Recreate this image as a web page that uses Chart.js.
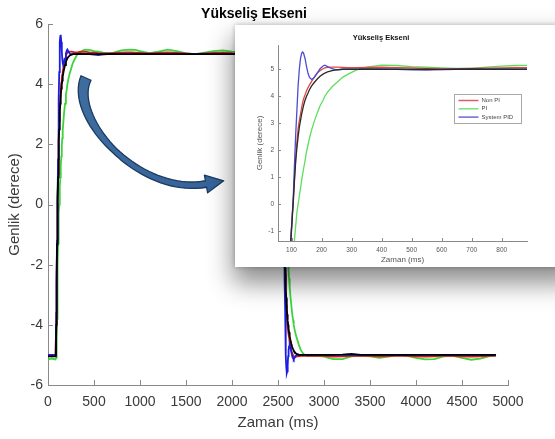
<!DOCTYPE html>
<html>
<head>
<meta charset="utf-8">
<script src="https://cdn.jsdelivr.net/npm/chart.js@4"></script>
<style>
  html, body { margin: 0; padding: 0; background: #fff; overflow: hidden; }
  #wrap { position: relative; width: 555px; height: 439px; overflow: hidden; }
  #mainChart { position: absolute; left: 0; top: 0; }
  #insetBox {
    position: absolute; left: 235px; top: 25px; width: 340px; height: 242px;
    background: #fff;
    box-shadow: 0 14px 24px 2px rgba(0,0,0,0.45), 0 0 5px rgba(0,0,0,0.25);
  }
  #insetChart { position: absolute; left: 0; top: 0; }
</style>
</head>
<body>
<div id="wrap">
  <canvas id="mainChart" width="555" height="439"></canvas>
  <div id="insetBox"><canvas id="insetChart" width="320" height="242"></canvas></div>
</div>
<script>
// Texts
const chartTitle = 'Yükseliş Ekseni';
const xTitle = 'Zaman (ms)';
const yTitle = 'Genlik (derece)';
const seriesNames = ['Non PI', 'PI', 'System PID'];

// Sample times (ms), shared by all traces
const timeMs = [0, 40, 80, 86, 90, 94, 98, 102, 106, 110, 114, 118, 122, 126, 130, 134, 137, 140, 145, 150,
  155, 160, 167, 175, 185, 195, 205, 211, 220, 235, 250, 270, 290, 317, 350, 400, 450, 500, 550, 600,
  650, 700, 750, 800, 850, 900, 950, 1000, 1100, 1200, 1300, 1400, 1500, 1600, 1700, 1800, 1900, 2000, 2200, 2400,
  2540, 2546, 2550, 2554, 2558, 2562, 2566, 2570, 2574, 2578, 2582, 2586, 2590, 2594, 2597, 2600, 2605, 2610, 2615, 2620,
  2627, 2635, 2645, 2655, 2665, 2671, 2680, 2695, 2710, 2730, 2750, 2780, 2820, 2900, 3000, 3100, 3200, 3300, 3400, 3500,
  3600, 3700, 3800, 3900, 4000, 4100, 4200, 4300, 4400, 4500, 4600, 4700, 4800, 4870];

// Red trace
const nonPI = [-5.0, -5.02, -5.0, -5.0, -4.0, -2.6, -1.3, -0.5, 0.2, 1.0, 1.7, 2.3, 2.8, 3.1, 3.35, 3.6, 3.75, 3.9, 4.05, 4.2,
  4.32, 4.42, 4.55, 4.7, 4.85, 4.95, 5.02, 5.05, 5.07, 5.08, 5.08, 5.07, 5.06, 5.06, 5.07, 5.08, 5.06, 5.05, 5.03, 5.02,
  5.02, 5.03, 5.04, 5.05, 5.06, 5.06, 5.05, 5.04, 5.02, 5.04, 5.06, 5.04, 5.02, 5.0, 5.02, 5.04, 5.05, 5.03, 5.02, 5.03,
  5.02, 5.0, 4.0, 2.6, 1.3, 0.5, -0.2, -1.0, -1.7, -2.3, -2.8, -3.1, -3.35, -3.6, -3.75, -3.9, -4.05, -4.2, -4.32, -4.42,
  -4.55, -4.7, -4.85, -4.95, -5.02, -5.05, -5.06, -5.06, -5.05, -5.04, -5.03, -5.02, -5.03, -5.02, -5.03, -5.06, -5.05, -5.03, -5.02, -5.03,
  -5.05, -5.04, -5.02, -5.03, -5.05, -5.06, -5.05, -5.02, -5.03, -5.05, -5.06, -5.05, -5.03, -5.02];

// Green trace
const pi = [-5.15, -5.12, -5.15, -5.15, -5.1, -4.6, -3.8, -2.9, -2.0, -1.3, -0.8, -0.3, 0.0, 0.3, 0.6, 0.9, 1.1, 1.3, 1.6, 1.95,
  2.2, 2.45, 2.75, 3.05, 3.35, 3.65, 3.85, 4.0, 4.15, 4.35, 4.5, 4.7, 4.83, 4.98, 5.08, 5.15, 5.14, 5.1, 5.08, 5.05,
  5.03, 5.03, 5.08, 5.12, 5.14, 5.15, 5.14, 5.1, 5.03, 5.08, 5.15, 5.1, 5.02, 5.0, 5.05, 5.1, 5.12, 5.08, 5.03, 5.1,
  5.05, 5.05, 5.0, 4.6, 3.8, 2.9, 2.0, 1.3, 0.8, 0.3, 0.0, -0.3, -0.6, -0.9, -1.1, -1.3, -1.6, -1.95, -2.2, -2.45,
  -2.75, -3.05, -3.35, -3.65, -3.85, -4.0, -4.15, -4.35, -4.5, -4.7, -4.85, -4.98, -5.04, -5.02, -5.06, -5.14, -5.14, -5.05, -5.02, -5.05,
  -5.1, -5.06, -5.01, -5.03, -5.1, -5.15, -5.14, -5.05, -5.03, -5.1, -5.16, -5.12, -5.04, -5.02];

// Blue trace
const systemPID = [-5.0, -5.0, -5.0, -4.9, -3.6, -2.3, -1.2, -0.5, 0.3, 1.5, 2.6, 3.5, 4.4, 5.0, 5.4, 5.6, 5.64, 5.6, 5.4, 5.1,
  4.85, 4.7, 4.62, 4.68, 4.85, 5.02, 5.12, 5.15, 5.1, 5.02, 4.98, 5.0, 5.0, 5.0, 5.0, 5.01, 5.0, 4.98, 4.97, 5.0,
  5.0, 5.0, 5.0, 5.01, 5.0, 5.0, 5.0, 5.0, 5.0, 5.0, 5.0, 5.0, 5.0, 5.0, 5.0, 5.0, 5.0, 5.0, 5.0, 5.0,
  5.0, 4.9, 3.6, 2.3, 1.2, 0.5, -0.3, -1.5, -2.6, -3.5, -4.4, -5.0, -5.4, -5.55, -5.6, -5.55, -5.35, -5.05, -4.85, -4.72,
  -4.68, -4.75, -4.9, -5.05, -5.12, -5.15, -5.1, -5.02, -4.98, -5.0, -5.0, -5.0, -5.0, -5.0, -5.0, -5.0, -5.0, -5.0, -5.0, -5.0,
  -5.0, -5.0, -5.0, -5.0, -5.0, -5.0, -5.0, -5.0, -5.0, -5.0, -5.0, -5.0, -5.0, -5.0];

// Black trace
const blackTrace = [-5.05, -5.05, -5.05, -5.0, -4.0, -2.6, -1.33, -0.6, 0.1, 0.9, 1.6, 2.1, 2.5, 2.85, 3.1, 3.35, 3.5, 3.65, 3.85, 4.0,
  4.12, 4.25, 4.38, 4.5, 4.63, 4.74, 4.82, 4.86, 4.9, 4.95, 4.98, 5.0, 5.0, 5.0, 5.01, 5.0, 5.0, 5.0, 5.0, 4.99,
  5.0, 5.01, 5.0, 5.0, 5.0, 5.0, 5.01, 5.0, 5.0, 5.0, 5.0, 5.0, 5.0, 5.0, 5.0, 5.0, 5.0, 5.0, 5.0, 5.0,
  5.0, 5.0, 4.0, 2.6, 1.3, 0.6, -0.1, -0.9, -1.6, -2.1, -2.5, -2.85, -3.1, -3.35, -3.5, -3.65, -3.85, -4.0, -4.12, -4.25,
  -4.38, -4.5, -4.63, -4.74, -4.82, -4.86, -4.9, -4.95, -4.98, -5.0, -5.0, -5.0, -5.0, -5.0, -5.0, -5.0, -4.99, -4.97, -5.0, -5.0,
  -5.0, -5.0, -5.0, -5.0, -5.0, -5.0, -5.0, -5.0, -5.0, -5.0, -5.0, -5.0, -5.0, -5.0];

// Axis ticks
const mainXTicks = [0, 500, 1000, 1500, 2000, 2500, 3000, 3500, 4000, 4500, 5000];
const mainYTicks = [-6, -4, -2, 0, 2, 4, 6];
const insetXTicks = [100, 200, 300, 400, 500, 600, 700, 800];
const insetYTicks = [-1, 0, 1, 2, 3, 4, 5];

Chart.defaults.font.family = 'Arial, "Liberation Sans", Helvetica, sans-serif';
Chart.defaults.animation = false;

function toPoints(values) {
    return timeMs.map((t, i) => ({ x: t, y: values[i] }));
}

function buildDatasets(colors, width) {
    const traces = [nonPI, pi, systemPID, blackTrace];
    const labels = [seriesNames[0], seriesNames[1], seriesNames[2], ''];
    const order = [2, 3, 1, 0];
    return traces.map((values, i) => ({
        label: labels[i],
        data: toPoints(values),
        borderColor: colors[i],
        borderWidth: width,
        pointRadius: 0,
        tension: 0,
        fill: false,
        order: order[i]
    }));
}

// MATLAB style ticks pointing into the plot
const inwardTicks = {
    id: 'inwardTicks',
    afterDatasetsDraw(chart, args, opts) {
        const { ctx, chartArea } = chart;
        const xs = chart.scales.x, ys = chart.scales.y;
        ctx.save();
        ctx.strokeStyle = opts.color;
        ctx.lineWidth = 1;
        ctx.beginPath();
        xs.ticks.forEach((t, i) => {
            const px = Math.round(xs.getPixelForTick(i)) + 0.5;
            ctx.moveTo(px, chartArea.bottom);
            ctx.lineTo(px, chartArea.bottom - opts.length);
        });
        ys.ticks.forEach((t, i) => {
            const py = Math.round(ys.getPixelForTick(i)) + 0.5;
            ctx.moveTo(chartArea.left, py);
            ctx.lineTo(chartArea.left + opts.length, py);
        });
        ctx.stroke();
        ctx.restore();
    }
};

// Curved callout arrow pointing at the zoomed view
const arrowDecor = {
    id: 'arrowDecor',
    afterDraw(chart) {
        const ctx = chart.ctx;
        const p = [[86, 78], [68, 118], [140, 196], [206, 184]];
        const bez = (t, k) => {
            const u = 1 - t;
            return u * u * u * p[0][k] + 3 * u * u * t * p[1][k] + 3 * u * t * t * p[2][k] + t * t * t * p[3][k];
        };
        const dBez = (t, k) => {
            const u = 1 - t;
            return 3 * u * u * (p[1][k] - p[0][k]) + 6 * u * t * (p[2][k] - p[1][k]) + 3 * t * t * (p[3][k] - p[2][k]);
        };
        const sideA = [], sideB = [];
        const n = 40;
        for (let i = 0; i <= n; i++) {
            const t = i / n;
            const x = bez(t, 0), y = bez(t, 1);
            let dx = dBez(t, 0), dy = dBez(t, 1);
            const len = Math.hypot(dx, dy);
            dx /= len; dy /= len;
            const hw = t < 0.5 ? 5.5 - 5.4 * t : 2.8 + (t - 0.5);
            sideA.push([x - dy * hw, y + dx * hw]);
            sideB.push([x + dy * hw, y - dx * hw]);
        }
        let ex = dBez(1, 0), ey = dBez(1, 1);
        const el = Math.hypot(ex, ey);
        ex /= el; ey /= el;
        const end = p[3];
        const tip = [end[0] + ex * 18, end[1] + ey * 18];
        const cornerA = [end[0] - ey * 9, end[1] + ex * 9];
        const cornerB = [end[0] + ey * 9, end[1] - ex * 9];

        ctx.save();
        ctx.beginPath();
        ctx.moveTo(sideA[0][0], sideA[0][1]);
        sideA.forEach(pt => ctx.lineTo(pt[0], pt[1]));
        ctx.lineTo(cornerA[0], cornerA[1]);
        ctx.lineTo(tip[0], tip[1]);
        ctx.lineTo(cornerB[0], cornerB[1]);
        for (let i = sideB.length - 1; i >= 0; i--) ctx.lineTo(sideB[i][0], sideB[i][1]);
        ctx.closePath();
        const grad = ctx.createLinearGradient(70, 80, 220, 190);
        grad.addColorStop(0, '#3f6d9f');
        grad.addColorStop(1, '#35639a');
        ctx.fillStyle = grad;
        ctx.fill();
        ctx.lineJoin = 'round';
        ctx.lineWidth = 1.3;
        ctx.strokeStyle = '#1c3a60';
        ctx.stroke();
        ctx.restore();
    }
};

// Legend box inside the zoomed view
const insetLegend = {
    id: 'insetLegend',
    afterDraw(chart) {
        const ctx = chart.ctx;
        const colors = ['#e25a66', '#7fe07f', '#6a6ad6'];
        const box = { x: 219.5, y: 69.5, w: 67, h: 29 };
        ctx.save();
        ctx.fillStyle = '#fff';
        ctx.fillRect(box.x, box.y, box.w, box.h);
        ctx.strokeStyle = '#a8a8a8';
        ctx.lineWidth = 1;
        ctx.strokeRect(box.x, box.y, box.w, box.h);
        ctx.font = '6px Arial, "Liberation Sans", sans-serif';
        ctx.textBaseline = 'middle';
        ctx.fillStyle = '#444';
        seriesNames.forEach((name, i) => {
            const y = box.y + 6 + i * 8.3;
            ctx.strokeStyle = colors[i];
            ctx.lineWidth = 1.5;
            ctx.beginPath();
            ctx.moveTo(box.x + 4, y);
            ctx.lineTo(box.x + 24, y);
            ctx.stroke();
            ctx.fillText(name, box.x + 27, y);
        });
        ctx.restore();
    }
};

function axisConfig(o) {
    return {
        type: 'linear',
        min: o.min,
        max: o.max,
        afterBuildTicks: s => { s.ticks = o.ticks.map(v => ({ value: v })); },
        afterFit: o.fit,
        grid: { display: false, drawTicks: false },
        border: { display: true, color: o.axisColor, width: 1 },
        ticks: {
            color: o.labelColor,
            font: { size: o.tickSize },
            padding: o.tickPad,
            autoSkip: false,
            maxRotation: 0,
            callback: v => String(v)
        },
        title: {
            display: true,
            text: o.title,
            color: o.labelColor,
            font: { size: o.titleSize },
            padding: o.titlePad
        }
    };
}

new Chart(document.getElementById('mainChart'), {
    type: 'line',
    data: { datasets: buildDatasets(['#d41a1a', '#3ed23e', '#1c1ce2', '#000000'], 1.8) },
    options: {
        responsive: false,
        layout: { padding: { left: 0, right: 47, top: 0, bottom: 0 } },
        plugins: {
            legend: { display: false },
            tooltip: { enabled: false },
            title: {
                display: true,
                text: chartTitle,
                color: '#000',
                font: { size: 14, weight: 'bold' },
                padding: { top: 5.5, bottom: 1.7 }
            },
            inwardTicks: { color: '#8a8a8a', length: 5 }
        },
        scales: {
            x: axisConfig({ min: 0, max: 5000, ticks: mainXTicks, fit: s => { s.height = 54; },
                axisColor: '#8a8a8a', labelColor: '#3a3a3a', tickSize: 14, tickPad: 9,
                title: xTitle, titleSize: 15, titlePad: { top: 0, bottom: 7 } }),
            y: axisConfig({ min: -6, max: 6, ticks: mainYTicks, fit: s => { s.width = 48; },
                axisColor: '#8a8a8a', labelColor: '#3a3a3a', tickSize: 14, tickPad: 5,
                title: yTitle, titleSize: 15, titlePad: { top: 6, bottom: 0 } })
        }
    },
    plugins: [inwardTicks, arrowDecor]
});

new Chart(document.getElementById('insetChart'), {
    type: 'line',
    data: { datasets: buildDatasets(['#e04848', '#5ede5e', '#4c4cd2', '#2a2a2a'], 1.3) },
    options: {
        responsive: false,
        layout: { padding: { left: 0, right: 28, top: 0, bottom: 0 } },
        plugins: {
            legend: { display: false },
            tooltip: { enabled: false },
            title: {
                display: true,
                text: chartTitle,
                color: '#111',
                font: { size: 7.5, weight: 'bold' },
                padding: { top: 8.5, bottom: 2.5 }
            },
            inwardTicks: { color: '#8a8a8a', length: 3 }
        },
        scales: {
            x: axisConfig({ min: 55, max: 884, ticks: insetXTicks, fit: s => { s.height = 26; },
                axisColor: '#8a8a8a', labelColor: '#555', tickSize: 6.5, tickPad: 5,
                title: xTitle, titleSize: 8, titlePad: { top: 0, bottom: 2.2 } }),
            y: axisConfig({ min: -1.37, max: 5.9, ticks: insetYTicks, fit: s => { s.width = 43; },
                axisColor: '#8a8a8a', labelColor: '#555', tickSize: 6.5, tickPad: 4,
                title: yTitle, titleSize: 8, titlePad: { top: 20, bottom: 0 } })
        }
    },
    plugins: [inwardTicks, insetLegend]
});
</script>
</body>
</html>
